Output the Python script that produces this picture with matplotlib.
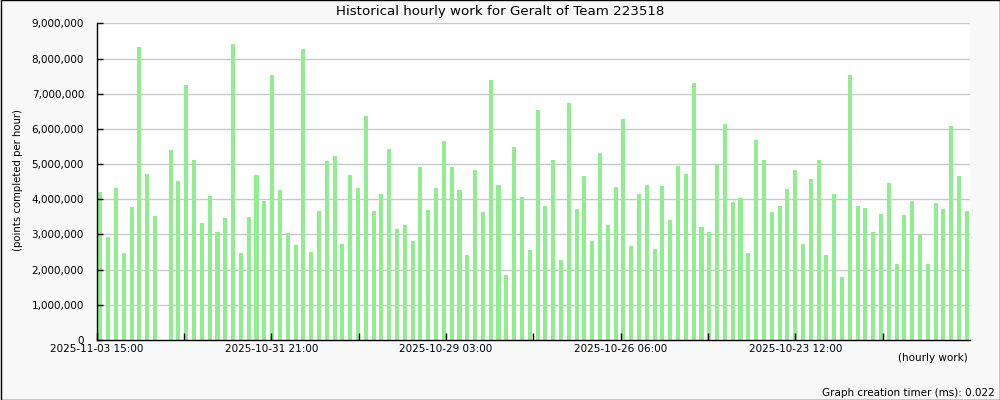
import matplotlib
matplotlib.use('Agg')
import matplotlib.pyplot as plt
from matplotlib.ticker import FuncFormatter, FixedLocator
from matplotlib.patches import Rectangle

# hourly points, newest first (millions)
points_m = [
    4.21, 2.93, 4.32, 2.47, 3.78, 8.33, 4.72, 3.52, 0.00, 5.40,
    4.52, 7.25, 5.12, 3.32, 4.09, 3.07, 3.47, 8.41, 2.47, 3.50,
    4.69, 3.95, 7.53, 4.26, 3.04, 2.70, 8.27, 2.50, 3.67, 5.09,
    5.23, 2.73, 4.69, 4.32, 6.37, 3.67, 4.15, 5.43, 3.15, 3.27,
    2.81, 4.92, 3.69, 4.32, 5.65, 4.92, 4.26, 2.42, 4.83, 3.64,
    7.39, 4.40, 1.85, 5.48, 4.06, 2.56, 6.54, 3.81, 5.12, 2.27,
    6.73, 3.72, 4.66, 2.81, 5.31, 3.27, 4.35, 6.28, 2.67, 4.15,
    4.40, 2.59, 4.38, 3.41, 4.94, 4.72, 7.30, 3.21, 3.07, 5.00,
    6.14, 3.92, 4.04, 2.47, 5.68, 5.12, 3.64, 3.81, 4.29, 4.83,
    2.73, 4.58, 5.12, 2.42, 4.15, 1.79, 7.53, 3.81, 3.75, 3.07,
    3.58, 4.46, 2.16, 3.55, 3.95, 2.98, 2.16, 3.89, 3.72, 6.08,
    4.66, 3.67,
]
points = [v * 1e6 for v in points_m]

tick_labels = ['2025-11-03 15:00', '2025-10-31 21:00', '2025-10-29 03:00',
               '2025-10-26 06:00', '2025-10-23 12:00']
y_ticks = [i * 1e6 for i in range(10)]
title = 'Historical hourly work for Geralt of Team 223518'

# posizioni dei tick in unità di barra
tick_step = 11.19
major = [-0.5 + 2 * k * tick_step for k in range(len(tick_labels))]
minor = [-0.5 + (2 * k + 1) * tick_step for k in range(len(tick_labels))]

plt.rcParams['font.family'] = 'DejaVu Sans'

fig = plt.figure(figsize=(10, 4), dpi=100, facecolor='#f8f8f8')
ax = fig.add_axes([0.0965, 0.15, 0.8735, 0.7917])
ax.set_facecolor('white')

# griglia sotto le barre, tick sopra
for yv in y_ticks[1:]:
    ax.axhline(yv, color='#c8c8c8', linewidth=1.0, zorder=0.5)

x = list(range(len(points)))
ax.bar(x, points, width=0.52, color='#90ee90', zorder=1)

ax.set_ylim(0, 9e6)
ax.set_xlim(-0.5, 111.4)
ax.set_yticks(y_ticks)
ax.yaxis.set_major_formatter(FuncFormatter(lambda v, p: f'{int(v):,}'))
ax.set_axisbelow(False)

ax.xaxis.set_major_locator(FixedLocator(major))
ax.xaxis.set_minor_locator(FixedLocator(minor))
ax.set_xticklabels(tick_labels)

for s in ['top', 'right']:
    ax.spines[s].set_visible(False)
for s in ['left', 'bottom']:
    ax.spines[s].set_color('black')
    ax.spines[s].set_linewidth(1.0)

ax.tick_params(axis='y', direction='in', length=4, width=1, pad=9, labelsize=7.5)
ax.tick_params(axis='x', which='both', direction='in', length=5, width=1,
               pad=3, labelsize=7.5)

fig.text(0.5, 0.972, title, ha='center', va='center', fontsize=9.6)
fig.text(0.018, 0.55, '(points completed per hour)', rotation=90,
         ha='center', va='center', fontsize=7.3)
fig.text(0.968, 0.105, '(hourly work)', ha='right', va='center', fontsize=7.5)
fig.text(0.995, 0.017, 'Graph creation timer (ms): 0.022', ha='right',
         va='center', fontsize=7.5)

# bordo nero attorno alla figura
fig.patches.append(Rectangle((0.0005, 0.001), 0.999, 0.9985, transform=fig.transFigure,
                             fill=False, edgecolor='black', linewidth=1.0))

fig.savefig('out.png', dpi=100, facecolor=fig.get_facecolor())
